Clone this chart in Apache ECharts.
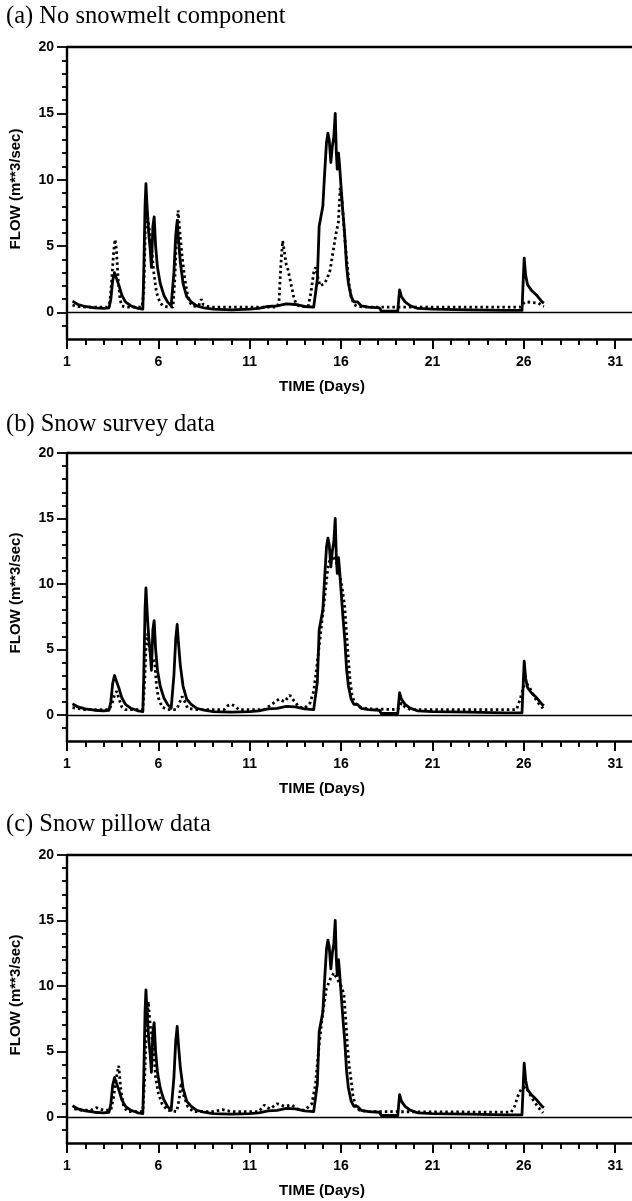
<!DOCTYPE html>
<html><head><meta charset="utf-8">
<script src="https://cdn.jsdelivr.net/npm/echarts@6/dist/echarts.min.js"></script>
<style>html,body{margin:0;padding:0;background:#fff}#c{width:632px;height:1201px}</style>
</head><body><div id="c"></div>
<script>
const panelTitles = ['(a) No snowmelt component', '(b) Snow survey data', '(c) Snow pillow data'];
const xLabelDays = [1, 6, 11, 16, 21, 26, 31];
const xMinorDays = [2,3,4,5,7,8,9,10,12,13,14,15,17,18,19,20,22,23,24,25,27,28,29,30];
const yLabelValues = [0, 5, 10, 15, 20];
const yMinorValues = [-1,1,2,3,4,6,7,8,9,11,12,13,14,16,17,18,19];
const xAxisName = 'TIME (Days)';
const yAxisName = 'FLOW (m**3/sec)';

// Observed flow (solid line), identical in all panels
const obsDays = [1.3,1.6,2.0,2.5,3.0,3.3,3.4,3.5,3.6,3.7,3.85,4.0,4.2,4.5,4.9,5.15,5.2,5.27,5.32,5.4,5.47,5.55,5.62,5.7,5.77,5.85,5.95,6.1,6.3,6.5,6.7,6.75,6.85,6.95,7.03,7.1,7.2,7.35,7.55,7.8,8.1,8.5,9.0,10.0,11.0,11.5,12.0,12.5,13.0,13.5,14.0,14.5,14.6,14.7,14.8,14.9,15.0,15.1,15.2,15.28,15.35,15.44,15.52,15.6,15.68,15.74,15.79,15.86,15.92,15.98,16.1,16.2,16.3,16.4,16.55,16.7,16.9,17.1,17.5,18.1,18.2,19.1,19.2,19.3,19.5,19.8,20.2,21.0,23.0,25.0,25.9,25.97,26.02,26.1,26.2,26.4,26.7,27.0,27.1];
const obsFlow = [0.85,0.6,0.45,0.35,0.3,0.35,1.0,2.4,3.0,2.9,2.0,1.3,0.8,0.5,0.3,0.25,3.0,8.0,9.7,7.5,6.0,4.8,3.4,6.5,7.2,5.0,3.4,2.2,1.3,0.8,0.5,0.5,3.0,5.8,6.9,5.5,3.8,2.2,1.2,0.8,0.5,0.35,0.25,0.2,0.25,0.3,0.45,0.5,0.65,0.6,0.45,0.4,0.5,2.5,6.5,6.6,8.0,10.5,12.8,13.5,13.0,11.3,12.5,13.2,15.0,12.0,10.8,12.0,11.0,9.8,7.5,5.8,3.5,2.2,1.2,0.8,0.8,0.5,0.4,0.35,0.1,0.1,1.7,1.2,0.8,0.5,0.3,0.25,0.2,0.15,0.15,2.5,4.1,2.8,2.1,1.7,1.3,0.8,0.7];

// Simulated flow (dotted line), panel (a)
const simDaysA = [1.3,1.6,2.0,3.2,3.35,3.45,3.55,3.63,3.7,3.8,3.9,4.0,4.2,5.1,5.2,5.28,5.35,5.45,5.55,5.65,5.75,5.9,6.1,6.3,6.8,6.9,7.0,7.08,7.18,7.3,7.45,7.6,7.75,7.9,8.2,8.35,8.45,8.7,9.0,12.5,12.6,12.7,12.8,12.9,13.0,13.1,13.25,13.4,13.55,13.8,14.2,14.35,14.5,14.6,14.7,14.85,14.95,15.1,15.25,15.4,15.55,15.7,15.85,15.95,16.05,16.15,16.25,16.35,16.45,16.55,16.7,16.9,17.5,25.8,25.9,26.1,26.5,26.8,27.0,27.1];
const simFlowA = [0.55,0.45,0.4,0.4,0.8,2.5,4.5,5.5,4.8,2.5,1.0,0.5,0.4,0.4,1.5,6.0,8.0,6.8,5.8,4.5,3.0,1.5,0.7,0.45,0.4,2.5,6.0,7.7,6.0,4.2,2.5,1.3,0.7,0.45,0.5,1.0,0.6,0.45,0.4,0.4,0.8,3.5,5.4,4.5,3.6,3.2,2.2,1.2,0.6,0.45,0.45,1.5,3.0,3.4,2.8,2.0,1.9,2.2,2.6,3.2,4.5,5.8,6.8,9.4,8.5,6.6,4.8,3.4,2.0,1.2,0.6,0.45,0.4,0.4,0.6,0.8,0.75,0.7,0.5,0.45];

// Simulated flow (dotted line), panel (b)
const simDaysB = [1.3,2.0,3.3,3.45,3.6,3.72,3.85,4.0,4.2,5.15,5.25,5.32,5.4,5.5,5.6,5.7,5.8,5.9,6.0,6.2,6.5,7.0,7.15,7.3,7.45,7.6,8.0,9.6,9.8,10.0,10.2,10.4,11.8,12.2,12.6,12.9,13.2,13.4,13.7,14.0,14.3,14.5,14.7,14.9,15.1,15.3,15.5,15.7,15.9,16.05,16.2,16.3,16.4,16.5,16.6,16.75,17.0,17.5,19.1,19.3,19.5,19.8,25.6,25.8,26.0,26.15,26.35,26.6,26.85,27.05];
const simFlowB = [0.55,0.4,0.4,0.8,1.5,1.8,1.2,0.6,0.4,0.4,2.5,5.0,6.2,5.2,4.5,4.6,4.0,2.2,1.3,0.6,0.4,0.4,0.9,1.4,1.0,0.5,0.4,0.4,0.7,0.8,0.65,0.4,0.4,0.8,1.2,1.0,1.5,1.1,0.6,0.5,0.9,1.8,4.0,6.5,9.0,11.5,12.2,11.8,10.8,9.8,8.2,6.2,4.2,2.5,1.5,0.9,0.6,0.45,0.4,0.9,0.6,0.4,0.4,1.2,2.2,2.4,2.0,1.3,0.8,0.5];

// Simulated flow (dotted line), panel (c)
const simDaysC = [1.4,1.8,2.3,2.6,3.0,3.4,3.55,3.7,3.83,3.95,4.1,4.3,5.15,5.25,5.35,5.45,5.55,5.65,5.75,5.85,6.0,6.2,6.5,7.0,7.12,7.25,7.4,7.6,7.9,9.0,9.5,10.0,11.5,11.8,12.1,12.5,12.9,13.3,13.6,14.0,14.4,14.6,14.8,15.0,15.2,15.4,15.6,15.8,16.0,16.15,16.25,16.35,16.45,16.55,16.65,16.8,17.0,17.5,25.3,25.5,25.65,25.85,26.1,26.3,26.5,26.75,27.05];
const simFlowC = [0.6,0.5,0.5,0.7,0.5,0.5,1.5,3.0,3.9,2.0,0.8,0.4,0.4,3.0,7.0,8.8,7.0,6.0,5.0,3.0,1.8,1.0,0.5,0.4,1.2,2.6,1.6,0.8,0.4,0.4,0.55,0.4,0.4,0.9,0.6,1.0,0.8,0.9,0.6,0.5,1.0,2.5,5.5,8.0,9.8,10.5,11.0,10.5,10.0,9.4,7.5,5.4,3.8,2.8,1.6,0.8,0.5,0.4,0.35,0.8,1.5,2.1,2.3,1.8,1.3,0.8,0.3];

const simDays = [simDaysA, simDaysB, simDaysC];
const simFlow = [simFlowA, simFlowB, simFlowC];

function pairs(xs, ys) { return xs.map((x, i) => [x, ys[i]]); }

const gridTops = [47, 453, 855];
const gridHeights = [292, 288, 288];
const titleTops = [4, 412, 812];
const SANS = '"Liberation Sans", Arial, sans-serif';
const SERIF = '"Liberation Serif", "Times New Roman", serif';
const labelStyle = { fontFamily: SANS, fontWeight: 'bold', fontSize: 14, color: '#000' };
const nameStyle = { fontFamily: SANS, fontWeight: 'bold', fontSize: 15, color: '#000' };

const option = {
  animation: false,
  backgroundColor: '#fff',
  title: panelTitles.map((t, i) => ({
    text: t, left: 6, top: titleTops[i], padding: 0,
    textStyle: { fontFamily: SERIF, fontWeight: 'normal', fontSize: 24.5, color: '#000' }
  })),
  grid: gridTops.map((t, i) => ({ left: 64, right: 0, top: t, height: gridHeights[i], containLabel: false })),
  xAxis: [], yAxis: [], series: []
};

for (let i = 0; i < 3; i++) {
  option.xAxis.push({
    gridIndex: i, type: 'value', min: 1, max: 31.92, position: 'bottom',
    axisLine: { onZero: false, lineStyle: { color: '#000', width: 2.5 } },
    axisTick: { customValues: xLabelDays, length: 10, lineStyle: { color: '#000', width: 2 } },
    axisLabel: Object.assign({ customValues: xLabelDays, margin: 16 }, labelStyle),
    splitLine: { show: false },
    name: xAxisName, nameLocation: 'middle', nameGap: 40,
    nameTextStyle: Object.assign({ padding: [0, 55, 0, 0] }, nameStyle)
  });
  option.xAxis.push({
    gridIndex: i, type: 'value', min: 1, max: 31.92, position: 'bottom',
    axisLine: { show: false, onZero: false },
    axisTick: { customValues: xMinorDays, length: 6, lineStyle: { color: '#000', width: 2 } },
    axisLabel: { show: false }, splitLine: { show: false }
  });
  option.yAxis.push({
    gridIndex: i, type: 'value', min: -2, max: 20, position: 'left',
    axisLine: { show: true, onZero: false, lineStyle: { color: '#000', width: 2.4 } },
    axisTick: { customValues: yLabelValues, length: 10, lineStyle: { color: '#000', width: 1.8 } },
    axisLabel: Object.assign({ customValues: yLabelValues, margin: 13 }, labelStyle),
    splitLine: { show: false },
    name: yAxisName, nameLocation: 'middle', nameGap: 44,
    nameTextStyle: Object.assign({ padding: [0, 0, 0, 8] }, nameStyle)
  });
  option.yAxis.push({
    gridIndex: i, type: 'value', min: -2, max: 20, position: 'left',
    axisLine: { show: false, onZero: false },
    axisTick: { customValues: yMinorValues, length: 5, lineStyle: { color: '#000', width: 1.8 } },
    axisLabel: { show: false }, splitLine: { show: false }
  });
  option.series.push({
    type: 'line', xAxisIndex: 2 * i, yAxisIndex: 2 * i,
    data: pairs(obsDays, obsFlow), showSymbol: false, symbol: 'none',
    lineStyle: { color: '#000', width: 2.8, join: 'round' },
    markLine: {
      silent: true, symbol: ['none', 'none'], label: { show: false },
      data: [
        { yAxis: 0, lineStyle: { color: '#000', width: 1.4, type: 'solid' } },
        { yAxis: 20, lineStyle: { color: '#000', width: 2.4, type: 'solid' } }
      ]
    }
  });
  option.series.push({
    type: 'line', xAxisIndex: 2 * i, yAxisIndex: 2 * i,
    data: pairs(simDays[i], simFlow[i]), showSymbol: false, symbol: 'none',
    lineStyle: { color: '#000', width: 2.8, type: [2.5, 3] }
  });
}

const chart = echarts.init(document.getElementById('c'), null, { renderer: 'canvas' });
chart.setOption(option);
</script>
</body></html>
